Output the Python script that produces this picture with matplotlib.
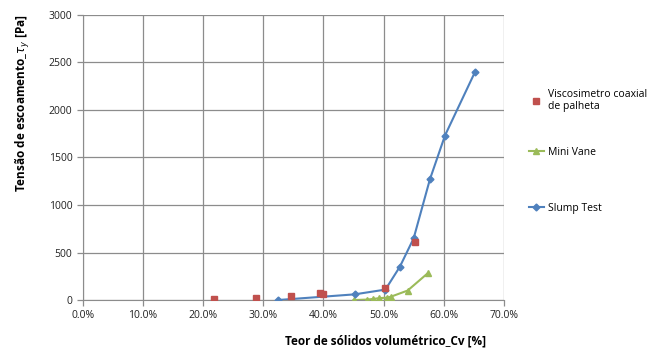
import matplotlib.pyplot as plt
from matplotlib.ticker import FuncFormatter

# Cv [%] vs yield stress [Pa]
viscoX = [21.8, 28.8, 34.6, 39.5, 40.0, 50.2, 55.2]
viscoY = [12, 20, 38, 72, 65, 125, 610]

vaneX = [45.0, 47.3, 48.3, 49.3, 50.5, 51.2, 54.0, 57.3]
vaneY = [0, 5, 12, 20, 25, 35, 100, 280]

slumpX = [32.4, 45.2, 50.3, 52.7, 55.0, 57.7, 60.2, 65.2]
slumpY = [0, 60, 110, 350, 650, 1270, 1730, 2400]

red = "#C0504D"
green = "#9BBB59"
blue = "#4F81BD"

plt.rcParams['font.family'] = ['Open Sans', 'DejaVu Sans']

fig = plt.figure(figsize=(6.57, 3.53), dpi=100)
ax = fig.add_axes([0.126, 0.150, 0.641, 0.808])

h1, = ax.plot(viscoX, viscoY, linestyle="none", marker="s", markersize=5, color=red,
              label="Viscosimetro coaxial\nde palheta", zorder=4)
h2, = ax.plot(vaneX, vaneY, marker="^", markersize=5, color=green, linewidth=1.5,
              label="Mini Vane", zorder=3)
h3, = ax.plot(slumpX, slumpY, marker="D", markersize=3.5, color=blue, linewidth=1.5,
              label="Slump Test", zorder=3)

ax.set_xlim(0, 70)
ax.set_ylim(0, 3000)
ax.set_xticks(range(0, 71, 10))
ax.set_yticks(range(0, 3001, 500))
ax.xaxis.set_major_formatter(FuncFormatter(lambda v, p: "%.1f%%" % v))
ax.grid(True, color="#8c8c8c", linewidth=0.9)
ax.set_axisbelow(True)
for s in ["top", "right"]:
    ax.spines[s].set_visible(False)
for s in ["left", "bottom"]:
    ax.spines[s].set_color("#8c8c8c")
ax.tick_params(labelsize=7.5, colors="#8c8c8c", labelcolor="#222222", length=4, width=0.9)

ax.set_xlabel("Teor de sólidos volumétrico_Cv [%]", fontsize=8.5, fontweight="bold")
ax.xaxis.set_label_coords(0.72, -0.12)
ax.set_ylabel(r"Tensão de escoamento_$\tau_y$ [Pa]", fontsize=8.5, fontweight="bold")
ax.yaxis.set_label_coords(-0.12, 0.69)

# one legend box per series so each entry sits at its own height
for h, ytop in [(h1, 0.76), (h2, 0.595), (h3, 0.437)]:
    fig.legend(handles=[h], loc="upper left", bbox_to_anchor=(0.799, ytop),
               frameon=False, fontsize=7.5, handlelength=1.4,
               handletextpad=0.4, borderaxespad=0)

fig.savefig("out.png", dpi=100)
